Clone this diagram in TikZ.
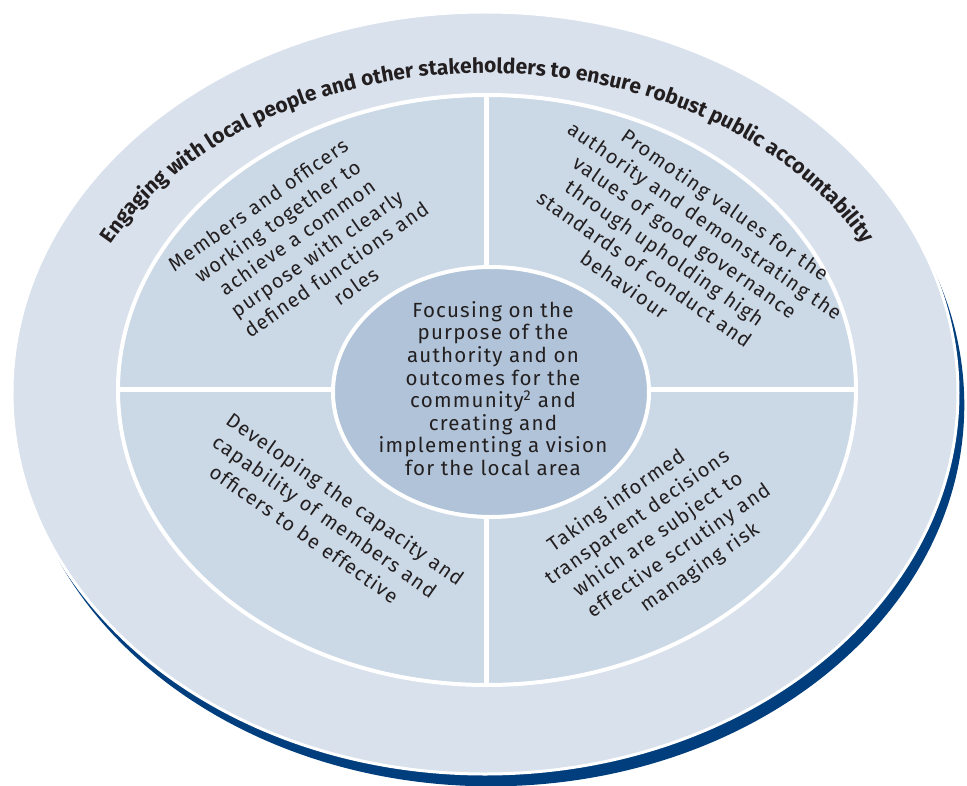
\documentclass[tikz,border=0pt]{standalone}
\usepackage{fontspec}
\setmainfont{Fira Sans}[LetterSpace=6]
\newfontfamily\arcfont{Fira Sans}
\usetikzlibrary{decorations.text}

\definecolor{ringlight}{RGB}{217,225,236}
\definecolor{quadfill}{RGB}{203,216,230}
\definecolor{corefill}{RGB}{176,195,216}
\definecolor{navyshade}{RGB}{0,62,126}
\definecolor{inkdark}{RGB}{35,31,32}

\begin{document}
\begin{tikzpicture}[
  x=1pt, y=1pt,
  ring/.style={draw=white, line width=3pt},
  divider/.style={draw=white, line width=5pt},
  qline/.style={text=inkdark, inner sep=0pt, text height=0.7em, text depth=0pt,
    font=\fontsize{20}{25}\selectfont},
  coretext/.style={text=inkdark, align=center, inner sep=0pt,
    font=\fontsize{20.5}{22.6}\selectfont}
]
\useasboundingbox (-487,-396) rectangle (480,389);

% navy shadow behind the outer ring
\fill[navyshade] (4,-16) ellipse [x radius=473.3pt, y radius=381.3pt];
\filldraw[ring, fill=ringlight] (-2,-4) ellipse [x radius=473pt, y radius=381pt];

% four quadrants and the core
\filldraw[ring, line width=4pt, fill=quadfill] (0,-1) ellipse [x radius=369pt, y radius=295pt];
\draw[divider] (0,293) -- (0,-295);
\draw[divider] (-368,0) -- (368,0);
\filldraw[ring, line width=4pt, fill=corefill] (4,-3) ellipse [x radius=158pt, y radius=125pt];

% arched title in the outer ring
\path[decorate, decoration={text along path, text align=center,
  text={|\color{inkdark}\arcfont\bfseries\fontsize{21}{22}\selectfont|Engaging with local people and other stakeholders to ensure robust public accountability}}]
  (172:423pt and 316pt) arc [start angle=172, end angle=8, x radius=423pt, y radius=316pt];

% core text
\node[coretext] (core) at (6,0.5) {Focusing on the\\purpose of the\\authority and on\\outcomes for the\\community\textsuperscript{2} and\\creating and\\implementing a vision\\for the local area};

% top left quadrant
\node[qline, rotate=35] (tl0) at (-227,181)     {Members and officers};
\node[qline, rotate=35] (tl1) at (-207.4,164.8) {working together to};
\node[qline, rotate=35] (tl2) at (-187.8,148.6) {achieve a common};
\node[qline, rotate=35] (tl3) at (-168.2,132.4) {purpose with clearly};
\node[qline, rotate=35] (tl4) at (-148.6,116.2) {defined functions and};
\node[qline, rotate=35] (tl5) at (-129,100)     {roles};

% top right quadrant
\node[qline, rotate=-35] (tr0) at (236,181)   {Promoting values for the};
\node[qline, rotate=-35] (tr1) at (215.8,165) {authority and demonstrating the};
\node[qline, rotate=-35] (tr2) at (195.6,149) {values of good governance};
\node[qline, rotate=-35] (tr3) at (175.4,133) {through upholding high};
\node[qline, rotate=-35] (tr4) at (155.2,117) {standards of conduct and};
\node[qline, rotate=-35] (tr5) at (135,101)   {behaviour};

% bottom left quadrant
\node[qline, rotate=-35] (bl0) at (-144,-113)     {Developing the capacity and};
\node[qline, rotate=-35] (bl1) at (-164.5,-130.5) {capability of members and};
\node[qline, rotate=-35] (bl2) at (-185,-148)     {officers to be effective};

% bottom right quadrant
\node[qline, rotate=35] (br0) at (131,-114)       {Taking informed};
\node[qline, rotate=35] (br1) at (151.8,-130.7)   {transparent decisions};
\node[qline, rotate=35] (br2) at (172.6,-147.4)   {which are subject to};
\node[qline, rotate=35] (br3) at (193.4,-164.1)   {effective scrutiny and};
\node[qline, rotate=35] (br4) at (214.2,-180.8)   {managing risk};

\end{tikzpicture}
\end{document}
